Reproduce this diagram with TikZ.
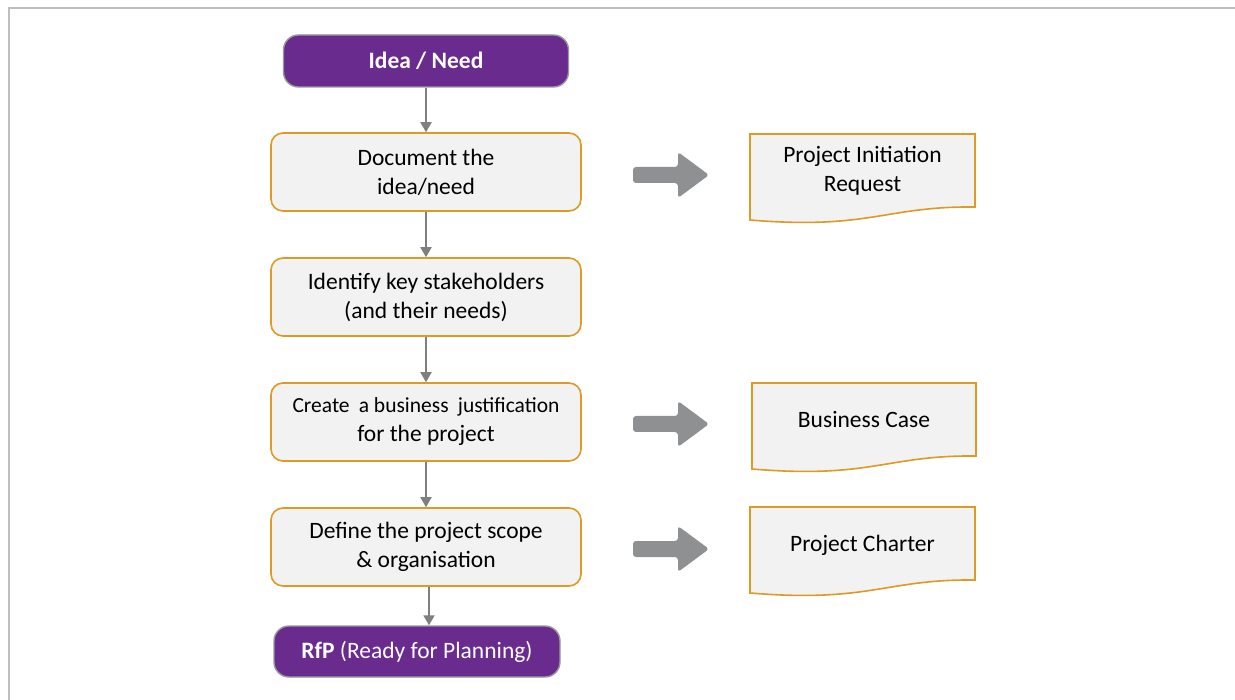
\documentclass[tikz,border=0pt]{standalone}
\usepackage{fontspec}
\setmainfont{Carlito}
\usetikzlibrary{arrows.meta,calc}
\definecolor{purp}{HTML}{6A2B8F}
\definecolor{orng}{HTML}{DE9A23}
\definecolor{boxfill}{HTML}{F2F2F2}
\definecolor{lgray}{HTML}{7F7F7F}
\definecolor{agray}{HTML}{8E9092}
\definecolor{fgray}{HTML}{BFBFBF}
\tikzset{
  txt/.style={font=\fontsize{23.5}{29}\selectfont},
  stepbox/.style={draw=orng, line width=1.6pt, fill=boxfill, rounded corners=12pt,
    minimum width=310pt, minimum height=78pt, align=center, txt, text=black, inner sep=0pt},
  termbox/.style={draw=lgray!80, line width=1.4pt, fill=purp, rounded corners=15pt,
    align=center, txt, text=white, inner sep=0pt},
  flow/.style={draw=lgray, line width=1.8pt, -{Triangle[width=11pt,length=10pt]}},
  docshape/.style={draw=orng, line width=1.6pt, fill=boxfill},
  doctext/.style={align=center, txt, text=black, inner sep=0pt},
  blockarrow/.style={fill=agray, rounded corners=3pt}
}
\begin{document}
\begin{tikzpicture}[x=1pt,y=-1pt]
\useasboundingbox (0,0) rectangle (1235,700);
\fill[white] (0,0) rectangle (1235,700);
\draw[fgray, line width=2pt] (9,700) -- (9,8) -- (1235,8);

% main flow
\node[termbox, minimum width=285pt, minimum height=52pt] (idea) at (426,61) {\textbf{Idea / Need}};
\node[stepbox] (b1) at (426,172) {Document the\\idea/need};
\node[stepbox] (b2) at (426,297) {Identify key stakeholders\\(and their needs)};
\node[stepbox] (b3) at (426,422) {{\fontsize{21.5}{29}\selectfont Create\hspace{0.2em} a business\hspace{0.2em} justification}\\for the project};
\node[stepbox] (b4) at (426,547) {Define the project scope\\\& organisation};
\node[termbox, minimum width=286pt, minimum height=51pt] (rfp) at (417,651.5) {\textbf{RfP} (Ready for Planning)};

\draw[flow] (idea.south) -- (b1.north);
\draw[flow] (b1.south) -- (b2.north);
\draw[flow] (b2.south) -- (b3.north);
\draw[flow] (b3.south) -- (b4.north);
\draw[flow] ([xshift=3pt]b4.south) -- ([xshift=3pt]b4.south |- rfp.north);

% block arrows
\foreach \cy in {175,424,549}{
  \fill[blockarrow] (633,\cy-8) -- (678,\cy-8) -- (678,\cy-23) -- (709,\cy) -- (678,\cy+23) -- (678,\cy+8) -- (633,\cy+8) -- cycle;
}

% documents
\foreach \L/\R/\T in {750/975/134, 752/976/383, 750/975/507}{
  \draw[docshape] (\L,\T+86) -- (\L,\T) -- (\R,\T) -- (\R,\T+73)
     .. controls (\R-90,\T+72) and (\L+120,\T+96) .. (\L,\T+86) -- cycle;
}
\node[doctext] (d1) at (862.5,171) {Project Initiation\\Request};
\node[doctext] (d2) at (864,420) {Business Case};
\node[doctext] (d3) at (862.5,545) {Project Charter};
\end{tikzpicture}
\end{document}
